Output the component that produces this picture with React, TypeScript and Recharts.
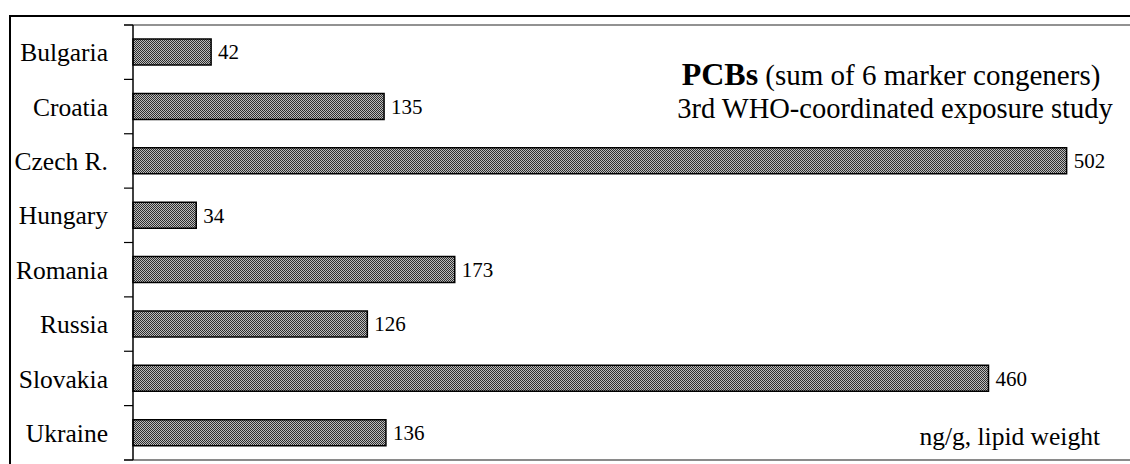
import React from 'react';
import { BarChart, Bar, XAxis, YAxis, LabelList, Customized } from 'recharts';

const countries = ['Bulgaria', 'Croatia', 'Czech R.', 'Hungary', 'Romania', 'Russia', 'Slovakia', 'Ukraine'];
const pcbValues = [42, 135, 502, 34, 173, 126, 460, 136];
const xDomain = [0, 535];
const titleBold = 'PCBs';
const titleRest = ' (sum of 6 marker congeners)';
const subtitle = '3rd WHO-coordinated exposure study';
const unitNote = 'ng/g, lipid weight';

const data = countries.map((c, i) => ({ country: c, value: pcbValues[i] }));

const W = 1130;
const H = 464;
const MARGIN = { top: 25, right: 2, bottom: 4, left: 0 };
const Y_AXIS_W = 133;
const PLOT_TOP = MARGIN.top;
const PLOT_BOTTOM = H - MARGIN.bottom;
const BAND = (PLOT_BOTTOM - PLOT_TOP) / countries.length;
const FONT = "'Liberation Serif', 'Times New Roman', serif";

const CategoryTick = (props: any) => {
  const { x, y, payload, index } = props;
  return (
    <g>
      <text x={x} y={y} dy="0.36em" textAnchor="end" style={{ fontFamily: FONT, fontSize: 25.5 }} fill="#000">
        {payload.value}
      </text>
      <line x1={x + 16} x2={x + 25} y1={y - BAND / 2} y2={y - BAND / 2} stroke="#000" strokeWidth={1.2} />
      {index === countries.length - 1 && (
        <line x1={x + 16} x2={x + 25} y1={y + BAND / 2} y2={y + BAND / 2} stroke="#000" strokeWidth={1.2} />
      )}
    </g>
  );
};

const Overlay = () => (
  <g>
    <defs>
      <pattern id="hatch" width="2" height="2" patternUnits="userSpaceOnUse">
        <rect width="2" height="2" fill="#bcbcbc" />
        <rect x="0" y="0" width="1" height="1" fill="#2e2e2e" />
        <rect x="1" y="1" width="1" height="1" fill="#2e2e2e" />
      </pattern>
    </defs>
    <line x1={9} x2={W} y1={16} y2={16} stroke="#000" strokeWidth={2} />
    <line x1={10} x2={10} y1={15} y2={H} stroke="#000" strokeWidth={2} />
    <line x1={Y_AXIS_W - 9} x2={W} y1={PLOT_TOP} y2={PLOT_TOP} stroke="#6e6e6e" strokeWidth={1.5} />
    <line x1={Y_AXIS_W - 9} x2={W} y1={PLOT_BOTTOM} y2={PLOT_BOTTOM} stroke="#8a8a8a" strokeWidth={2} />
    <text x={891} y={85} textAnchor="middle" style={{ fontFamily: FONT }} fill="#000">
      <tspan style={{ fontSize: 32, fontWeight: 'bold' }}>{titleBold}</tspan>
      <tspan style={{ fontSize: 29 }}>{titleRest}</tspan>
    </text>
    <text x={895} y={118} textAnchor="middle" style={{ fontFamily: FONT, fontSize: 28.5 }} fill="#000">
      {subtitle}
    </text>
    <text x={1100} y={445} textAnchor="end" style={{ fontFamily: FONT, fontSize: 25.5 }} fill="#000">
      {unitNote}
    </text>
  </g>
);

export default function App() {
  return (
    <div style={{ position: 'absolute', left: 0, top: 0, width: W, height: H, background: '#fff' }}>
      <BarChart width={W} height={H} data={data} layout="vertical" margin={MARGIN} barCategoryGap={0}>
        <XAxis type="number" domain={xDomain} hide />
        <YAxis
          type="category"
          dataKey="country"
          width={Y_AXIS_W}
          interval={0}
          tickLine={false}
          tickSize={0}
          tickMargin={25}
          axisLine={{ stroke: '#000', strokeWidth: 1.5 }}
          tick={<CategoryTick />}
        />
        <Bar dataKey="value" fill="url(#hatch)" stroke="#000" strokeWidth={1.5} barSize={26} isAnimationActive={false}>
          <LabelList
            dataKey="value"
            position="right"
            offset={7}
            style={{ fontFamily: FONT, fontSize: 21, fill: '#000' }}
          />
        </Bar>
        <Customized component={<Overlay />} />
      </BarChart>
    </div>
  );
}
